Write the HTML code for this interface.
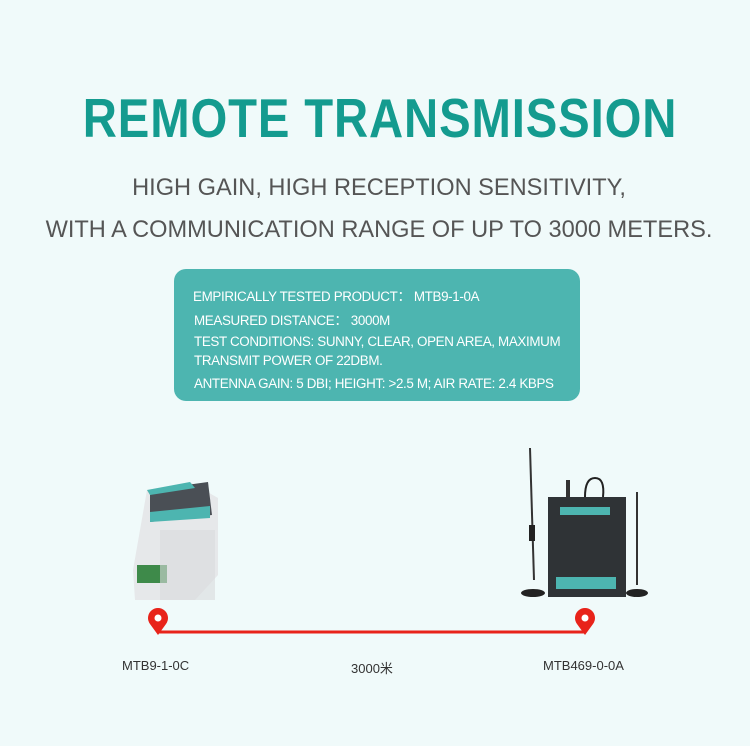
<!DOCTYPE html>
<html><head><meta charset="utf-8"><style>
body{margin:0;width:750px;height:746px;background:#f0fafa;position:relative;overflow:hidden;font-family:"Liberation Sans","Noto Sans CJK SC",sans-serif}
.a{position:absolute}
.t{left:0;width:760px;text-align:center;top:86px;font-size:55px;font-weight:bold;color:#149b8f;letter-spacing:1px;transform:scaleX(0.86);transform-origin:380px 0}
.s{left:0;width:758px;text-align:center;font-size:23.6px;color:#555}
.box{left:174px;top:269px;width:406px;height:132px;background:#4db5b0;border-radius:12px}
.bt{color:#fff;font-size:13.4px;white-space:nowrap;letter-spacing:-0.35px}
.l{font-size:13px;color:#333}
</style></head><body>
<div class="a t">REMOTE TRANSMISSION</div>
<div class="a s" style="top:175px">HIGH GAIN, HIGH RECEPTION SENSITIVITY,</div>
<div class="a s" style="top:217px">WITH A COMMUNICATION RANGE OF UP TO 3000 METERS.</div>
<div class="a box"></div>
<div class="a bt" style="left:193px;top:285px">EMPIRICALLY TESTED PRODUCT：&nbsp;MTB9-1-0A</div>
<div class="a bt" style="left:194px;top:309px">MEASURED DISTANCE：&nbsp;3000M</div>
<div class="a bt" style="left:194px;top:334px">TEST CONDITIONS: SUNNY, CLEAR, OPEN AREA, MAXIMUM</div>
<div class="a bt" style="left:194px;top:353px">TRANSMIT POWER OF 22DBM.</div>
<div class="a bt" style="left:194px;top:376px">ANTENNA GAIN: 5 DBI; HEIGHT: &gt;2.5 M; AIR RATE: 2.4 KBPS</div>
<svg class="a" style="left:0;top:0" width="750" height="746">
<polygon points="147,490 190,482 218,498 218,575 195,600 135,600 133,570 140,530" fill="#e6e8ea"/>
<polygon points="150,490 208,482 212,515 150,522" fill="#4a4f55"/>
<polygon points="150,512 210,506 210,518 150,522" fill="#4db5b0"/>
<polygon points="147,490 190,482 195,488 150,495" fill="#4db5b0"/>
<rect x="137" y="565" width="30" height="18" fill="#3e8a4a"/>
<rect x="160" y="530" width="55" height="70" fill="#d8dadc" opacity=".6"/>
<line x1="530" y1="448" x2="534" y2="580" stroke="#333" stroke-width="2"/>
<rect x="529" y="525" width="6" height="16" fill="#222"/>
<ellipse cx="533" cy="593" rx="12" ry="4" fill="#222"/>
<line x1="637" y1="492" x2="637" y2="585" stroke="#333" stroke-width="2"/>
<ellipse cx="637" cy="593" rx="11" ry="4" fill="#222"/>
<rect x="548" y="497" width="78" height="100" fill="#2f3336"/>
<rect x="560" y="507" width="50" height="8" fill="#4db5b0"/>
<rect x="556" y="577" width="60" height="12" fill="#4db5b0"/>
<rect x="566" y="480" width="4" height="17" fill="#333"/>
<path d="M585 497 Q585 478 595 478 Q605 478 603 497" fill="none" stroke="#222" stroke-width="2"/>
<line x1="158" y1="632" x2="586" y2="632" stroke="#e8231a" stroke-width="3"/>
<path d="M158 635 L150 624 A10 10 0 1 1 166 624 Z" fill="#e8231a"/><circle cx="158" cy="618" r="3.5" fill="#fff"/>
<path d="M585 635 L577 624 A10 10 0 1 1 593 624 Z" fill="#e8231a"/><circle cx="585" cy="618" r="3.5" fill="#fff"/>
</svg>
<div class="a l" style="left:122px;top:658px">MTB9-1-0C</div>
<div class="a l" style="left:351px;top:658px">3000米</div>
<div class="a l" style="left:543px;top:658px">MTB469-0-0A</div>
</body></html>
